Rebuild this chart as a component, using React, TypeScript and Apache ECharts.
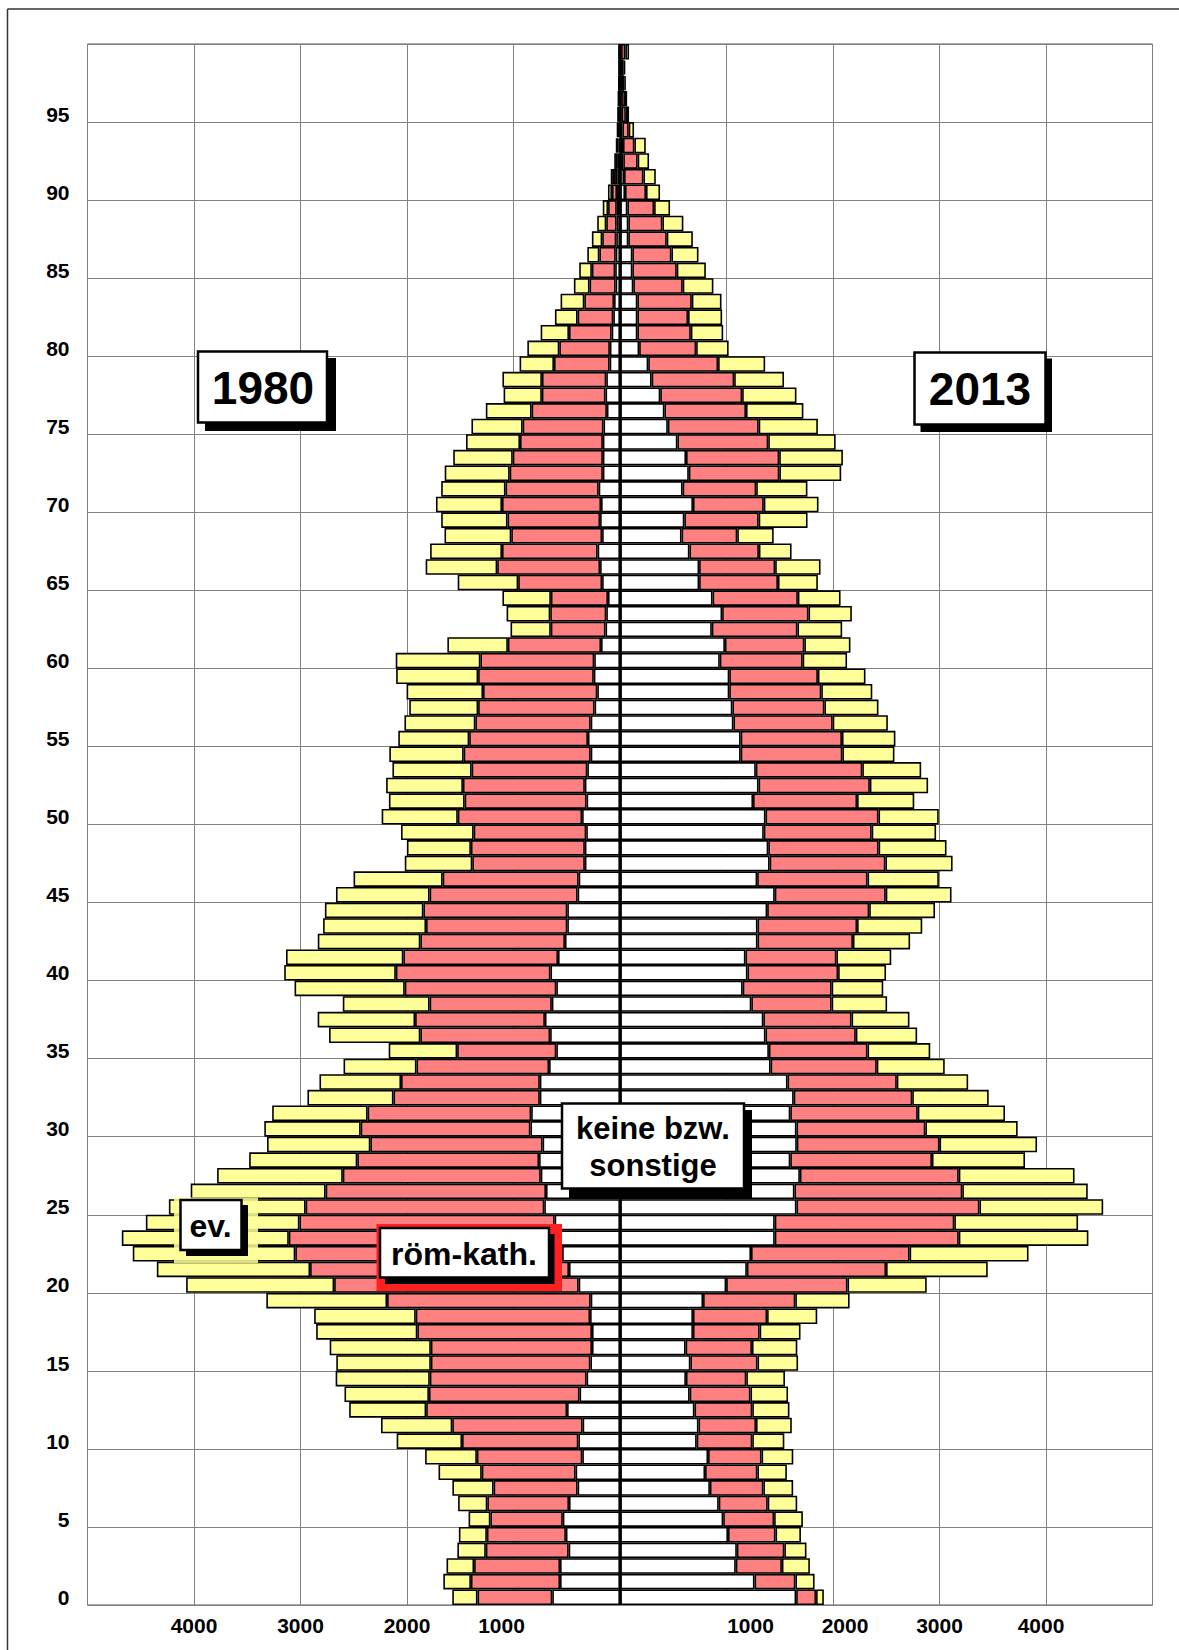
import React, { useEffect, useRef } from "react";
import * as echarts from "echarts";

// Ages 0..99 (category axis, bottom = 0)
const ages: string[] = Array.from({ length: 100 }, (_, i) => String(i));

// 1980 (left side)
const keine1980 = [
  636, 563, 563, 482, 508, 537, 479, 398, 417, 354, 391, 351, 497, 380, 314, 278, 263, 263, 281, 275,
  388, 479, 543, 575, 614, 711, 695, 744, 760, 727, 841, 834, 753, 753, 666, 598, 656, 705, 640, 598,
  653, 582, 517, 495, 495, 398, 388, 330, 330, 317, 356, 314, 330, 307, 275, 301, 275, 239, 213, 246,
  242, 178, 136, 129, 113, 168, 187, 210, 168, 187, 178, 200, 161, 161, 161, 155, 123, 136, 129, 97,
  95, 78, 63, 56, 41, 45, 40, 35, 32, 30, 28, 25, 20, 15, 12, 10, 8, 6, 5, 5,
];
const kath1980 = [
  702, 837, 807, 778, 742, 680, 767, 789, 881, 990, 1092, 1224, 1323, 1414, 1472, 1498, 1513, 1640, 1637, 1912,
  2296, 2431, 2506, 2535, 2396, 2241, 2069, 1859, 1707, 1617, 1594, 1536, 1374, 1303, 1245, 931, 1219, 1219, 1148, 1423,
  1452, 1452, 1358, 1326, 1351, 1390, 1277, 1057, 1070, 1057, 1167, 1145, 1145, 1086, 1193, 1115, 1083, 1093, 1073, 1086,
  1069, 875, 514, 526, 536, 788, 966, 898, 853, 869, 930, 875, 875, 846, 778, 759, 707, 598, 604, 523,
  475, 401, 335, 279, 245, 219, 154, 132, 97, 82, 47, 31, 18, 12, 8, 6, 5, 4, 3, 3,
];
const ev1980 = [
  237, 259, 259, 267, 263, 205, 274, 387, 406, 486, 614, 669, 723, 793, 884, 888, 950, 950, 954, 1134,
  1390, 1439, 1526, 1568, 1442, 1284, 1267, 1180, 1015, 970, 905, 896, 808, 766, 685, 643, 857, 915, 815, 1035,
  1048, 1102, 963, 967, 925, 879, 837, 634, 601, 682, 715, 711, 721, 744, 698, 666, 666, 647, 718, 770,
  795, 568, 378, 410, 455, 568, 672, 675, 627, 623, 620, 604, 610, 559, 507, 481, 430, 359, 371, 323,
  300, 266, 213, 223, 147, 119, 113, 97, 85, 50, 38, 31, 16, 10, 7, 5, 4, 3, 2, 3,
];

// 2013 (right side)
const keine2013 = [
  1654, 1263, 1087, 1097, 1014, 969, 927, 844, 799, 827, 720, 737, 699, 654, 619, 661, 616, 685, 685, 780,
  997, 1191, 1230, 1453, 1453, 1657, 1638, 1689, 1599, 1660, 1657, 1599, 1631, 1573, 1414, 1398, 1366, 1346, 1233, 1152,
  1197, 1178, 1291, 1291, 1382, 1453, 1288, 1405, 1392, 1350, 1366, 1249, 1301, 1275, 1133, 1133, 1065, 1055, 1026, 1026,
  937, 985, 862, 959, 869, 743, 743, 652, 578, 604, 685, 588, 646, 620, 539, 449, 417, 378, 297, 265,
  180, 163, 163, 163, 125, 116, 116, 78, 78, 69, 47, 38, 31, 28, 22, 15, 12, 10, 10, 10,
];
const kath2013 = [
  187, 384, 433, 446, 446, 478, 460, 502, 491, 502, 522, 540, 543, 571, 567, 630, 623, 626, 696, 866,
  1139, 1307, 1489, 1728, 1686, 1718, 1576, 1492, 1330, 1340, 1210, 1197, 1113, 1026, 997, 926, 848, 828, 754, 835,
  851, 854, 896, 935, 958, 1042, 1036, 1087, 1036, 1013, 1061, 977, 1045, 1000, 955, 951, 932, 864, 864, 832,
  778, 746, 804, 811, 801, 740, 714, 652, 523, 698, 665, 691, 850, 875, 853, 853, 766, 769, 775, 656,
  535, 502, 476, 511, 464, 417, 367, 361, 320, 251, 197, 182, 135, 107, 60, 40, 35, 30, 25, 40,
];
const ev2013 = [
  73, 180, 263, 208, 239, 270, 277, 280, 277, 298, 301, 336, 349, 353, 363, 381, 426, 384, 471, 510,
  744, 955, 1117, 1217, 1162, 1162, 1178, 1087, 874, 916, 867, 819, 718, 670, 638, 589, 576, 544, 521, 485,
  450, 515, 537, 612, 618, 618, 670, 631, 638, 605, 566, 537, 547, 553, 489, 502, 518, 508, 479, 447,
  417, 433, 420, 407, 401, 375, 426, 307, 342, 459, 514, 481, 581, 598, 633, 556, 539, 510, 468, 442,
  305, 304, 320, 279, 288, 273, 254, 245, 197, 150, 132, 116, 107, 107, 50, 30, 20, 15, 15, 35,
];

const xTicks = [-5000, -4000, -3000, -2000, -1000, 0, 1000, 2000, 3000, 4000, 5000];

const FONT = "'Liberation Sans', Arial, sans-serif";
const WHITE = "#FFFFFF";
const RED = "#FF8080";
const YELLOW = "#FFFF99";

export default function App() {
  const ref = useRef<HTMLDivElement>(null);

  useEffect(() => {
    if (!ref.current) return;
    const chart = echarts.init(ref.current, undefined, { renderer: "svg" });

    const itemStyle = (color: string) => ({
      color,
      borderColor: "#000",
      borderWidth: 1.6,
    });

    const mk = (name: string, data: number[], color: string, neg: boolean, extra: any = {}) => ({
      name,
      type: "bar",
      stack: "all",
      data: data.map((v) => (neg ? -v : v)),
      barWidth: "100%",
      barCategoryGap: "0%",
      itemStyle: itemStyle(color),
      silent: true,
      ...extra,
    });

    const labelBase = { fontSize: 21, fontWeight: "bold", color: "#000", fontFamily: FONT };

    const option: any = {
      animation: false,
      backgroundColor: "#fff",
      grid: {
        left: 87.5,
        right: 26.5,
        top: 44,
        bottom: 45,
        show: true,
        borderColor: "#555",
        borderWidth: 1,
        containLabel: false,
      },
      xAxis: {
        type: "value",
        min: xTicks[0],
        max: xTicks[xTicks.length - 1],
        interval: 1000,
        axisLine: { show: false },
        axisTick: { show: false },
        splitLine: { show: true, lineStyle: { color: "#808080", width: 1 } },
        axisLabel: {
          margin: 10,
          ...labelBase,
          formatter: (v: number) => {
            const a = Math.abs(v);
            if (a === 0 || a === 5000) return "";
            if (v === -1000) return `{l1|${a}}`;
            if (v === 1000) return `{r1|${a}}`;
            if (v === 2000) return `{r2|${a}}`;
            if (v === 4000) return `{r4|${a}}`;
            return `{n|${a}}`;
          },
          rich: {
            n: { ...labelBase },
            l1: { ...labelBase, padding: [0, 24, 0, 0] },
            r1: { ...labelBase, padding: [0, 0, 0, 48] },
            r2: { ...labelBase, padding: [0, 0, 0, 24] },
            r4: { ...labelBase, padding: [0, 10, 0, 0] },
          },
        },
      },
      yAxis: {
        type: "category",
        data: ages,
        boundaryGap: true,
        axisLine: { show: false },
        axisTick: { show: false },
        splitLine: { show: true, interval: 4, lineStyle: { color: "#808080", width: 1 } },
        axisLabel: { interval: 4, margin: 18, ...labelBase },
      },
      series: [
        mk("keine 1980", keine1980, WHITE, true),
        mk("röm-kath 1980", kath1980, RED, true),
        mk("ev 1980", ev1980, YELLOW, true),
        mk("keine 2013", keine2013, WHITE, false),
        mk("röm-kath 2013", kath2013, RED, false),
        mk("ev 2013", ev2013, YELLOW, false, {
          markLine: {
            silent: true,
            symbol: "none",
            label: { show: false },
            lineStyle: { color: "#000", width: 2.5, type: "solid" },
            data: [{ xAxis: 0 }],
          },
        }),
      ],
      graphic: [
        // outer frame (left & top)
        { type: "line", shape: { x1: 7.5, y1: 9, x2: 7.5, y2: 1650 }, style: { stroke: "#333", lineWidth: 1.5 }, z: 50 },
        { type: "line", shape: { x1: 7.5, y1: 9, x2: 1179, y2: 9 }, style: { stroke: "#333", lineWidth: 1.5 }, z: 50 },

        // 1980 box
        { type: "rect", shape: { x: 205, y: 358, width: 131, height: 73 }, style: { fill: "#000" }, z: 60 },
        { type: "rect", shape: { x: 198, y: 351.5, width: 129, height: 71 }, style: { fill: "#fff", stroke: "#000", lineWidth: 2.5 }, z: 61 },
        { type: "text", x: 263, y: 388, style: { text: "1980", fontSize: 46, fontWeight: "bold", fontFamily: FONT, fill: "#000", textAlign: "center", textVerticalAlign: "middle" }, z: 62 },

        // 2013 box
        { type: "rect", shape: { x: 920.5, y: 358.5, width: 131.5, height: 73.5 }, style: { fill: "#000" }, z: 60 },
        { type: "rect", shape: { x: 914.5, y: 352.5, width: 131, height: 72 }, style: { fill: "#fff", stroke: "#000", lineWidth: 2.5 }, z: 61 },
        { type: "text", x: 980, y: 389, style: { text: "2013", fontSize: 46, fontWeight: "bold", fontFamily: FONT, fill: "#000", textAlign: "center", textVerticalAlign: "middle" }, z: 62 },

        // keine bzw. sonstige box
        { type: "rect", shape: { x: 569, y: 1110, width: 183, height: 88 }, style: { fill: "#000" }, z: 60 },
        { type: "rect", shape: { x: 562, y: 1103.5, width: 182, height: 85 }, style: { fill: "#fff", stroke: "#000", lineWidth: 2.5 }, z: 61 },
        { type: "text", x: 653, y: 1128, style: { text: "keine bzw.", fontSize: 31, fontWeight: "bold", fontFamily: FONT, fill: "#000", textAlign: "center", textVerticalAlign: "middle" }, z: 62 },
        { type: "text", x: 653, y: 1165, style: { text: "sonstige", fontSize: 31, fontWeight: "bold", fontFamily: FONT, fill: "#000", textAlign: "center", textVerticalAlign: "middle" }, z: 62 },

        // ev. box (with pale yellow halo)
        { type: "rect", shape: { x: 174, y: 1197.5, width: 84, height: 65.5 }, style: { fill: YELLOW, opacity: 0.85 }, z: 59 },
        { type: "rect", shape: { x: 186, y: 1205, width: 62, height: 51 }, style: { fill: "#000" }, z: 60 },
        { type: "rect", shape: { x: 180.5, y: 1200, width: 61, height: 50 }, style: { fill: "#fff", stroke: "#000", lineWidth: 2.5 }, z: 61 },
        { type: "text", x: 210.5, y: 1226, style: { text: "ev.", fontSize: 32, fontWeight: "bold", fontFamily: FONT, fill: "#000", textAlign: "center", textVerticalAlign: "middle" }, z: 62 },

        // röm-kath. box (red frame)
        { type: "rect", shape: { x: 376.5, y: 1224, width: 185.5, height: 67 }, style: { fill: "#FF2020" }, z: 59 },
        { type: "rect", shape: { x: 385, y: 1234, width: 169.5, height: 50 }, style: { fill: "#000" }, z: 60 },
        { type: "rect", shape: { x: 380, y: 1228, width: 169, height: 49.5 }, style: { fill: "#fff", stroke: "#000", lineWidth: 2.5 }, z: 61 },
        { type: "text", x: 464, y: 1254, style: { text: "röm-kath.", fontSize: 32, fontWeight: "bold", fontFamily: FONT, fill: "#000", textAlign: "center", textVerticalAlign: "middle" }, z: 62 },
      ],
    };

    chart.setOption(option);
    return () => chart.dispose();
  }, []);

  return (
    <div
      ref={ref}
      style={{ position: "absolute", left: 0, top: 0, width: 1179, height: 1650, background: "#fff" }}
    />
  );
}
